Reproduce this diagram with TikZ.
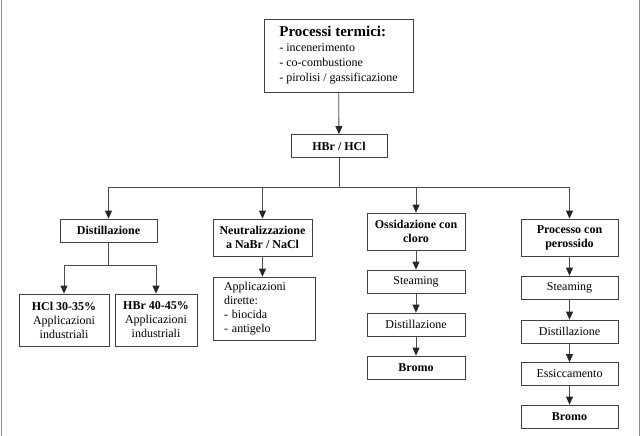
\documentclass[tikz,border=0pt]{standalone}
\usepackage{fontspec}
\setmainfont{Liberation Serif}
\usetikzlibrary{arrows.meta}

\begin{document}
\begin{tikzpicture}[x=1pt,y=-1pt]
        \tikzset{box/.style={draw=black!75, line width=0.8pt, inner sep=2pt,
                             align=center, font=\fontsize{12}{14}\selectfont},
                 boldbox/.style={box, font=\fontsize{12}{14}\selectfont\bfseries},
                 link/.style={draw=black!70, line width=0.8pt},
                 arrow/.style={link, -{Triangle[width=7pt,length=8pt,color=black!85]}}}
        \useasboundingbox (0,0) rectangle (642,436);

        % side rules of the page
        \draw[black!45, line width=1.5pt] (1.5,0) -- (1.5,436);
        \draw[black!45, line width=1.5pt] (639.5,0) -- (639.5,436);

        \node[box, minimum width=149pt, minimum height=73pt, align=left,
              font=\fontsize{12}{15}\selectfont] (proc) at (338.5,55.5)
              {{\fontsize{15}{18}\selectfont\bfseries Processi termici:}\\
               - incenerimento\\
               - co-combustione\\
               - pirolisi / gassificazione};

        \node[boldbox, minimum width=96pt, minimum height=23pt] (hbr) at (339,146) {HBr / HCl};

        \node[boldbox, minimum width=97pt, minimum height=23pt] (dist) at (108.5,230.5) {Distillazione};
        \node[boldbox, minimum width=99pt, minimum height=37pt] (neut) at (262.5,237.5)
              {Neutralizzazione\\a NaBr / NaCl};
        \node[boldbox, minimum width=98pt, minimum height=37pt] (ossi) at (416,231.5)
              {Ossidazione con\\cloro};
        \node[boldbox, minimum width=97pt, minimum height=37pt] (pero) at (569.5,237.5)
              {Processo con\\perossido};

        \node[box, minimum width=90pt, minimum height=52pt] (hcl) at (64,320)
              {\textbf{HCl 30-35\%}\\Applicazioni\\industriali};
        \node[box, minimum width=82pt, minimum height=52pt] (hbrp) at (156,320)
              {\textbf{HBr 40-45\%}\\Applicazioni\\industriali};

        \node[box, minimum width=102pt, minimum height=63pt, align=left,
              text width=80pt] (appl) at (264,308.5)
              {Applicazioni\\dirette:\\- biocida\\- antigelo};

        \node[box, minimum width=98pt, minimum height=23pt] (steam1) at (416,281.5) {Steaming};
        \node[box, minimum width=98pt, minimum height=23pt] (dist1) at (416,324.5) {Distillazione};
        \node[boldbox, minimum width=98pt, minimum height=23pt] (bromo1) at (416,367.5) {Bromo};

        \node[box, minimum width=97pt, minimum height=23pt] (steam2) at (569.5,287.5) {Steaming};
        \node[box, minimum width=97pt, minimum height=23pt] (dist2) at (569.5,331.5) {Distillazione};
        \node[box, minimum width=97pt, minimum height=23pt] (essi) at (569.5,374) {Essiccamento};
        \node[boldbox, minimum width=97pt, minimum height=23pt] (bromo2) at (569.5,416.5) {Bromo};

        % connectors
        \coordinate (bus) at (339,187);
        \coordinate (distbus) at (108.5,265);

        \draw[arrow] (proc) -- (hbr);
        \draw[link] (hbr) -- (bus);
        \draw[arrow] (bus) -| (dist.north);
        \draw[arrow] (bus) -| (neut.north);
        \draw[arrow] (bus) -| (ossi.north);
        \draw[arrow] (bus) -| (pero.north);

        \draw[link] (dist) -- (distbus);
        \draw[arrow] (distbus) -| (hcl.north);
        \draw[arrow] (distbus) -| (hbrp.north);

        \draw[arrow] (neut.south) -- (neut.south |- appl.north);

        \draw[arrow] (ossi) -- (steam1);
        \draw[arrow] (steam1) -- (dist1);
        \draw[arrow] (dist1) -- (bromo1);

        \draw[arrow] (pero) -- (steam2);
        \draw[arrow] (steam2) -- (dist2);
        \draw[arrow] (dist2) -- (essi);
        \draw[arrow] (essi) -- (bromo2);
\end{tikzpicture}
\end{document}
